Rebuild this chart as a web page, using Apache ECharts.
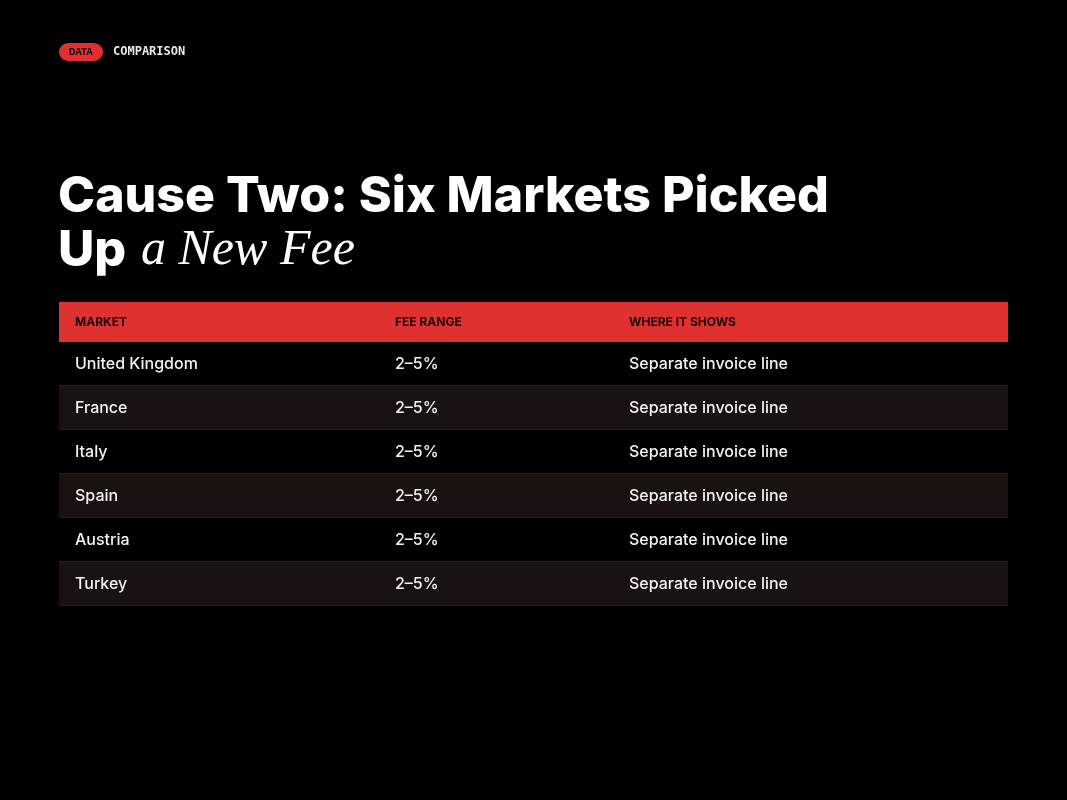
<!DOCTYPE html>
<html>
<head>
<meta charset="utf-8">
<script src="https://cdn.jsdelivr.net/npm/echarts@6/dist/echarts.min.js"></script>
<style>
html, body { margin: 0; padding: 0; background: #000; }
#container { width: 1067px; height: 800px; }
</style>
</head>
<body>
<div id="container"></div>
<script>
// table content
var columns = ['MARKET', 'FEE RANGE', 'WHERE IT SHOWS'];
var markets = ['United Kingdom', 'France', 'Italy', 'Spain', 'Austria', 'Turkey'];
var feeRanges = ['2–5%', '2–5%', '2–5%', '2–5%', '2–5%', '2–5%'];
var whereShows = ['Separate invoice line', 'Separate invoice line', 'Separate invoice line',
	'Separate invoice line', 'Separate invoice line', 'Separate invoice line'];

var dom = document.getElementById('container');
var myChart = echarts.init(dom);

var left = 59, width = 949, headTop = 302, headH = 40, rowH = 44;
var colX = [75, 395, 629];
var sans = 'Inter, "Noto Sans", sans-serif';

var els = [];
// tag + kicker
els.push({ type: 'rect', shape: { x: 59, y: 43, width: 44, height: 18, r: 9 }, style: { fill: '#e03030' } });
els.push({ type: 'text', x: 81, y: 52, style: { text: 'DATA', fill: '#1a0000', font: 'bold 9px ' + sans, align: 'center', verticalAlign: 'middle' } });
els.push({ type: 'text', x: 113, y: 52, style: { text: 'COMPARISON', fill: '#e8e8e8', font: 'bold 12px "DejaVu Sans Mono", monospace', verticalAlign: 'middle' } });
// title
els.push({ type: 'text', x: 58, y: 222, style: { text: 'Cause Two: Six Markets Picked', fill: '#fff', font: '800 50px ' + sans, verticalAlign: 'bottom' } });
els.push({ type: 'text', x: 58, y: 276, style: { text: 'Up', fill: '#fff', font: '800 50px ' + sans, verticalAlign: 'bottom' } });
els.push({ type: 'text', x: 141, y: 276, style: { text: 'a New Fee', fill: '#fff', font: 'italic 50px "Liberation Serif", "DejaVu Serif", serif', verticalAlign: 'bottom' } });

// header
els.push({ type: 'rect', shape: { x: left, y: headTop, width: width, height: headH }, style: { fill: '#e03131' } });
columns.forEach(function (c, i) {
	els.push({ type: 'text', x: colX[i], y: headTop + headH / 2, style: { text: c, fill: '#1a0505', font: 'bold 12px ' + sans, verticalAlign: 'middle' } });
});

// rows
markets.forEach(function (m, r) {
	var y = headTop + headH + r * rowH;
	els.push({ type: 'rect', shape: { x: left, y: y, width: width, height: rowH }, style: { fill: r % 2 ? '#1a1111' : '#000' } });
	els.push({ type: 'line', shape: { x1: left, y1: y + rowH - 0.5, x2: left + width, y2: y + rowH - 0.5 }, style: { stroke: '#2a1a1a', lineWidth: 1 } });
	var cells = [m, feeRanges[r], whereShows[r]];
	cells.forEach(function (t, i) {
		els.push({ type: 'text', x: colX[i], y: y + rowH / 2, style: { text: t, fill: '#f2f2f2', font: '500 16px ' + sans, verticalAlign: 'middle' } });
	});
});

var option = {
	backgroundColor: '#000',
	graphic: { elements: els }
};
myChart.setOption(option, true);
</script>
</body>
</html>
